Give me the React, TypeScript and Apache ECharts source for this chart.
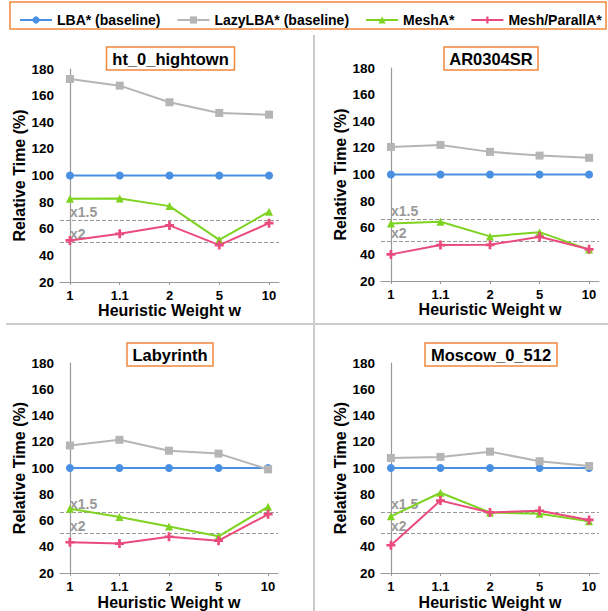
import React, { useEffect, useRef } from "react";
import * as echarts from "echarts";

const categories = ["1", "1.1", "2", "5", "10"];
const seriesNames = ["LBA* (baseline)", "LazyLBA* (baseline)", "MeshA*", "Mesh/ParallA*"];
const panelTitles = ["ht_0_hightown", "AR0304SR", "Labyrinth", "Moscow_0_512"];

// ht_0_hightown
const hightownLBA = [100, 100, 100, 100, 100];
const hightownLazy = [172.5, 167.5, 155, 147, 145.7];
const hightownMesh = [82.5, 82.8, 77, 51.7, 72.8];
const hightownParall = [51.2, 56.2, 62.5, 47.7, 64.2];

// AR0304SR
const arLBA = [100, 100, 100, 100, 100];
const arLazy = [120.7, 122.2, 117, 114.2, 112.5];
const arMesh = [63.2, 64.5, 53.5, 56.7, 43.6];
const arParall = [40, 47, 47.2, 53.2, 43.8];

// Labyrinth
const labLBA = [100, 100, 100, 100, 100];
const labLazy = [117.2, 121.5, 113.2, 111, 99];
const labMesh = [69, 62.8, 55.5, 48, 70.5];
const labParall = [43.5, 42.5, 47.7, 44.7, 64.8];

// Moscow_0_512
const moscowLBA = [100, 100, 100, 100, 100];
const moscowLazy = [107.7, 108.5, 112.5, 105.2, 101.5];
const moscowMesh = [63.2, 81.2, 66.2, 65.2, 59.5];
const moscowParall = [41.2, 75.2, 66.2, 67.5, 60.5];

const refValues = [66.67, 50];
const refLabels = ["x1.5", "x2"];

const yTicks = { min: 20, max: 180, interval: 20 };

const panelData = [
  [hightownLBA, hightownLazy, hightownMesh, hightownParall],
  [arLBA, arLazy, arMesh, arParall],
  [labLBA, labLazy, labMesh, labParall],
  [moscowLBA, moscowLazy, moscowMesh, moscowParall],
];

const colors = ["#4A90E2", "#B5B5B5", "#7ED321", "#EA4B7D"];
const plusPath = "path://M3.5,0H6.5V3.5H10V6.5H6.5V10H3.5V6.5H0V3.5H3.5Z";
const symbols = ["circle", "rect", "triangle", plusPath];
const symbolSizes = [8, 8, 8, 9];

const grids = [
  { left: 60, top: 69, width: 219, height: 213 },
  { left: 381, top: 68, width: 218, height: 213 },
  { left: 60, top: 363, width: 218, height: 213 },
  { left: 381, top: 363, width: 218, height: 213 },
];

const FONT = "'Liberation Sans', Arial, sans-serif";

export default function App() {
  const ref = useRef<HTMLDivElement>(null);
  useEffect(() => {
    document.body.style.margin = "0";
    const chart = echarts.init(ref.current!, null, { renderer: "svg" });
    const xAxes: any[] = [];
    const yAxes: any[] = [];
    const series: any[] = [];
    const titles: any[] = [];
    grids.forEach((g, i) => {
      xAxes.push({
        type: "value",
        gridIndex: i,
        min: -0.2,
        max: 4.2,
        name: "Heuristic Weight w",
        nameLocation: "middle",
        nameGap: 18,
        nameTextStyle: { fontSize: 16, fontWeight: "bold", color: "#000", fontFamily: FONT },
        axisLine: { lineStyle: { color: "#999", width: 1.2 } },
        axisTick: { show: true, length: 3, customValues: [0, 1, 2, 3, 4], lineStyle: { color: "#999" } },
        splitLine: { show: false },
        axisLabel: {
          customValues: [0, 1, 2, 3, 4],
          formatter: (v: number) => categories[Math.round(v)] ?? "",
          fontSize: 13,
          fontWeight: "bold",
          color: "#000",
          fontFamily: FONT,
          margin: 7,
        },
      });
      yAxes.push({
        type: "value",
        gridIndex: i,
        min: yTicks.min,
        max: yTicks.max,
        interval: yTicks.interval,
        name: "Relative Time (%)",
        nameLocation: "middle",
        nameGap: 29,
        nameTextStyle: { fontSize: 16, fontWeight: "bold", color: "#000", fontFamily: FONT },
        axisLine: { show: true, lineStyle: { color: "#999", width: 1.2 } },
        axisTick: { show: false },
        splitLine: { show: false },
        axisLabel: { fontSize: 13.5, fontWeight: "bold", color: "#000", fontFamily: FONT, margin: 6 },
      });
      titles.push({
        text: panelTitles[i],
        left: g.left + g.width / 2 - 5,
        top: i < 2 ? 47 : 343,
        textAlign: "center",
        borderColor: "#F0883C",
        borderWidth: 1.5,
        padding: [3, 6, 3, 6],
        textStyle: { fontSize: 16.5, fontWeight: "bold", color: "#000", fontFamily: FONT },
      });
      panelData[i].forEach((vals, s) => {
        const item: any = {
          type: "line",
          name: seriesNames[s],
          xAxisIndex: i,
          yAxisIndex: i,
          data: vals.map((v, k) => [k, v]),
          symbol: symbols[s],
          symbolSize: symbolSizes[s],
          showSymbol: true,
          lineStyle: { width: 2, color: colors[s] },
          itemStyle: { color: colors[s] },
          z: 3 + s,
        };
        if (s === 0) {
          item.markLine = {
            silent: true,
            symbol: "none",
            z: 1,
            lineStyle: { type: "dashed", color: "#999", width: 1 },
            label: {
              position: "insideStartTop",
              color: "#999",
              fontSize: 14,
              fontWeight: "bold",
              fontFamily: FONT,
              distance: [10, 1],
            },
            data: refValues.map((v, k) => ({ yAxis: v, label: { formatter: refLabels[k] } })),
          };
        }
        series.push(item);
      });
    });

    chart.setOption({
      animation: false,
      textStyle: { fontFamily: FONT },
      title: titles,
      legend: {
        data: seriesNames,
        left: 14,
        top: 8,
        itemWidth: 32,
        itemHeight: 9,
        itemGap: 16,
        textStyle: { fontSize: 14, fontWeight: "bold", color: "#000", fontFamily: FONT },
      },
      graphic: [
        {
          type: "rect",
          shape: { x: 10, y: 2, width: 596, height: 27 },
          style: { fill: "none", stroke: "#F0883C", lineWidth: 1.5 },
        },
        {
          type: "line",
          shape: { x1: 314, y1: 35, x2: 314, y2: 611 },
          style: { stroke: "#CCCCCC", lineWidth: 2 },
        },
        {
          type: "line",
          shape: { x1: 6, y1: 324, x2: 608, y2: 324 },
          style: { stroke: "#CCCCCC", lineWidth: 2 },
        },
      ],
      grid: grids,
      xAxis: xAxes,
      yAxis: yAxes,
      series,
    });
    return () => chart.dispose();
  }, []);
  return <div ref={ref} style={{ position: "absolute", left: 0, top: 0, width: 608, height: 611 }} />;
}
